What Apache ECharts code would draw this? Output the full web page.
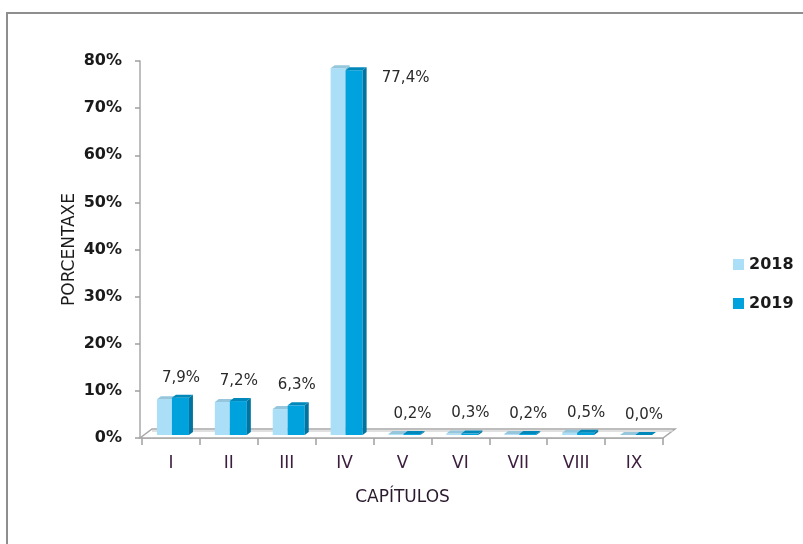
<!DOCTYPE html>
<html>
<head>
<meta charset="utf-8">
<script src="https://cdn.jsdelivr.net/npm/echarts@6/dist/echarts.min.js"></script>
<style>
html,body{margin:0;padding:0;background:#fff;}
#chart{width:803px;height:544px;}
</style>
</head>
<body>
<div id="chart"></div>
<script>
var categories = ['I', 'II', 'III', 'IV', 'V', 'VI', 'VII', 'VIII', 'IX'];
var values2018 = [7.6, 7.0, 5.5, 77.8, 0.2, 0.3, 0.2, 0.5, 0.0];
var values2019 = [7.9, 7.2, 6.3, 77.4, 0.2, 0.3, 0.2, 0.5, 0.0];
var seriesNames = ['2018', '2019'];
var yMax = 80, yInterval = 10;

var FONT = 'DejaVu Sans';
var DX = 4, DY = 3, LIFT = 3;

function fmt(v) { return v.toFixed(1).replace('.', ',') + '%'; }

function barShape(api, x0, x1, colors) {
  var base = api.coord([0, 0])[1] - LIFT;
  var top = api.coord([0, api.value(1)])[1] - LIFT;
  return {
    top: top,
    children: [
      { type: 'polygon', shape: { points: [[x0, top], [x1, top], [x1, base], [x0, base]] }, style: { fill: colors.front } },
      { type: 'polygon', shape: { points: [[x1, top], [x1 + DX, top - DY], [x1 + DX, base - DY], [x1, base]] }, style: { fill: colors.side } },
      { type: 'polygon', shape: { points: [[x0, top], [x0 + DX, top - DY], [x1 + DX, top - DY], [x1, top]] }, style: { fill: colors.top } }
    ]
  };
}

function makeRender(which) {
  var colors = which === 0
    ? { front: '#aadff7', side: '#7fc0dc', top: '#95c6db' }
    : { front: '#00a2de', side: '#00739f', top: '#0088bb' };
  return function (params, api) {
    var c = api.coord([api.value(0), 0]);
    var w = api.size([1, 0])[0];
    var k = w / 57.9;
    var cx = c[0];
    var x0, x1;
    if (which === 0) { x0 = cx - 14 * k; x1 = cx + 1 * k; }
    else { x0 = cx + 1 * k; x1 = cx + 18 * k; }
    var s = barShape(api, x0, x1, colors);
    var children = s.children;
    if (which === 1) {
      var topLimit = api.coord([0, yMax])[1];
      var lx = cx + 10 * k, ly = s.top - 20;
      if (ly < topLimit) { lx = cx + 61 * k; ly = s.top + 8; }
      children.push({
        type: 'text',
        style: {
          text: fmt(api.value(1)), x: lx, y: ly, align: 'center', verticalAlign: 'middle',
          fontFamily: FONT, fontSize: 15, fill: '#2a2a2a'
        }
      });
    }
    return { type: 'group', children: children };
  };
}

function floorRender(params, api) {
  var w = api.size([1, 0])[0];
  var first = api.coord([0, 0]);
  var last = api.coord([categories.length - 1, 0]);
  var fl = [first[0] - w / 2 - 2, first[1]];
  var fr = [last[0] + w / 2, last[1]];
  var ox = 12, oy = -9;
  return {
    type: 'group',
    children: [
      { type: 'polygon', shape: { points: [fl, fr, [fr[0] + ox, fr[1] + oy], [fl[0] + ox, fl[1] + oy]] },
        style: { fill: '#ffffff', stroke: '#a8a8a8', lineWidth: 1.5 } },
      { type: 'line', shape: { x1: fl[0] + ox, y1: fl[1] + oy + 2, x2: fr[0] + ox - 2, y2: fr[1] + oy + 2 },
        style: { stroke: '#d6d6d6', lineWidth: 1.5 } }
    ]
  };
}

var chart = echarts.init(document.getElementById('chart'));
chart.setOption({
  animation: false,
  backgroundColor: '#ffffff',
  graphic: [{
    type: 'rect', shape: { x: 7, y: 13, width: 830, height: 560 },
    style: { fill: 'none', stroke: '#8e8e8e', lineWidth: 2 }, z: -10
  }],
  grid: { left: 142, right: 140, top: 61, bottom: 106 },
  legend: {
    orient: 'vertical', left: 728, top: 251,
    itemWidth: 11, itemHeight: 11, itemGap: 22,
    data: [{ name: '2018', icon: 'rect' }, { name: '2019', icon: 'rect' }],
    textStyle: { fontFamily: FONT, fontSize: 16, fontWeight: 'bold', lineHeight: 17, color: '#1a1a1a' }
  },
  xAxis: {
    type: 'category', data: categories,
    name: 'CAPÍTULOS', nameLocation: 'middle', nameGap: 51, nameMoveOverlap: false,
    nameTextStyle: { fontFamily: FONT, fontSize: 17, color: '#2a1a2e' },
    axisLine: { lineStyle: { color: '#a8a8a8', width: 1.5 } },
    axisTick: { show: true, length: 7, lineStyle: { color: '#a0a0a0', width: 1.5 } },
    axisLabel: { margin: 17, fontFamily: FONT, fontSize: 17, color: '#3b1d3d' },
    splitLine: { show: false }
  },
  yAxis: {
    type: 'value', min: 0, max: yMax, interval: yInterval,
    name: 'PORCENTAXE', nameLocation: 'middle', nameGap: 62, nameMoveOverlap: false,
    nameTextStyle: { fontFamily: FONT, fontSize: 17, color: '#1a1a1a' },
    offset: 2,
    axisLine: { show: true, lineStyle: { color: '#a8a8a8', width: 1.5 } },
    axisTick: { show: true, length: 5, lineStyle: { color: '#a0a0a0', width: 1.5 } },
    axisLabel: { margin: 18, fontFamily: FONT, fontSize: 16, fontWeight: 'bold', color: '#1a1a1a', formatter: '{value}%' },
    splitLine: { show: false }
  },
  series: [
    { type: 'custom', name: 'floor', renderItem: floorRender, data: [[0, 0]], z: 1, silent: true },
    { type: 'custom', name: seriesNames[0], renderItem: makeRender(0),
      itemStyle: { color: '#aadff7' }, z: 2,
      data: values2018.map(function (v, i) { return [i, v]; }) },
    { type: 'custom', name: seriesNames[1], renderItem: makeRender(1),
      itemStyle: { color: '#00a2de' }, z: 3,
      data: values2019.map(function (v, i) { return [i, v]; }) }
  ]
});
</script>
</body>
</html>
